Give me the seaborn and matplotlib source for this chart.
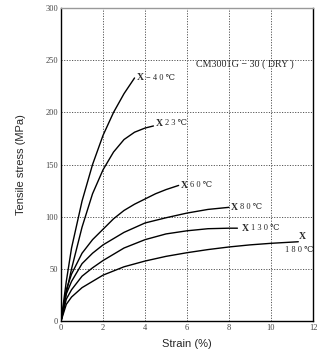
import numpy as np
import pandas as pd
import matplotlib
matplotlib.use("Agg")
import matplotlib.pyplot as plt
import seaborn as sns

# ---- data ----
labels = ["−40℃", "23℃", "60℃", "80℃", "130℃", "180℃"]

x_m40 = [0, 0.25, 0.5, 1.0, 1.5, 2.0, 2.5, 3.0, 3.5]
y_m40 = [0, 38, 70, 115, 150, 178, 200, 218, 233]

x_23 = [0, 0.25, 0.5, 1.0, 1.5, 2.0, 2.5, 3.0, 3.5, 4.0, 4.4]
y_23 = [0, 27, 50, 90, 122, 145, 162, 174, 181, 185, 187]

x_60 = [0, 0.25, 0.5, 1.0, 1.5, 2.0, 2.5, 3.0, 3.5, 4.0, 4.5, 5.0, 5.6]
y_60 = [0, 30, 45, 65, 78, 88, 98, 106, 112, 117, 122, 126, 130]

x_80 = [0, 0.25, 0.5, 1.0, 1.5, 2.0, 3.0, 4.0, 5.0, 6.0, 7.0, 8.0]
y_80 = [0, 26, 38, 55, 65, 73, 85, 94, 99, 103.5, 107, 109]

x_130 = [0, 0.25, 0.5, 1.0, 1.5, 2.0, 3.0, 4.0, 5.0, 6.0, 7.0, 8.0, 8.4]
y_130 = [0, 21, 30, 43, 51, 58, 70, 78, 83.5, 86.5, 88.5, 89, 89]

x_180 = [0, 0.25, 0.5, 1.0, 2.0, 3.0, 4.0, 5.0, 6.0, 7.0, 8.0, 9.0, 10.0, 11.3]
y_180 = [0, 16, 23, 32, 44, 52, 57.5, 62, 65.5, 68.5, 71, 73, 74.5, 76]

title_text = "CM3001G − 30 ( DRY )"
x_ticks = [0, 2, 4, 6, 8, 10, 12]
y_ticks = [0, 50, 100, 150, 200, 250, 300]

series_x = [x_m40, x_23, x_60, x_80, x_130, x_180]
series_y = [y_m40, y_23, y_60, y_80, y_130, y_180]

frames = []
for lab, xs, ys in zip(labels, series_x, series_y):
    frames.append(pd.DataFrame({"strain": xs, "stress": ys, "temp": lab}))
df = pd.concat(frames, ignore_index=True)

sns.set_theme(style="white")
plt.rcParams["font.family"] = ["Liberation Sans", "DejaVu Sans"]

fig = plt.figure(figsize=(3.23, 3.52), dpi=100)
ax = fig.add_axes([0.189, 0.088, 0.78, 0.889])

sns.lineplot(data=df, x="strain", y="stress", hue="temp", sort=False,
             palette=["black"] * len(labels), linewidth=1.0, legend=False,
             estimator=None, ax=ax)

ax.set_xlim(0, 12)
ax.set_ylim(0, 300)
ax.set_xticks(x_ticks)
ax.set_yticks(y_ticks)
serif = ["Liberation Serif", "DejaVu Serif"]
ax.set_xticklabels([str(t) for t in x_ticks], fontsize=6, family=serif, color="#444444")
ax.set_yticklabels([str(t) for t in y_ticks], fontsize=6, family=serif, color="#444444")
ax.tick_params(axis="both", length=0, pad=2)
ax.grid(True, linestyle=(0, (1.2, 1.5)), color="#555555", linewidth=0.7)
for s in ax.spines.values():
    s.set_color("black")
    s.set_linewidth(1.0)
ax.spines["top"].set_color("#999999")

ax.set_xlabel("Strain (%)", fontsize=8, labelpad=5)
ax.set_ylabel("Tensile stress (MPa)", fontsize=8, labelpad=14)

def spaced(s):
    return " ".join(list(s)).replace("℃ ", "℃")

# end markers and labels
offsets = [(4, 0), (4, 2), (4, 0), (4, 0), (6, 0), None]
for lab, xs, ys, off in zip(labels, series_x, series_y, offsets):
    if off is None:
        ax.annotate("X", (xs[-1], ys[-1]), xytext=(3, 4), textcoords="offset points",
                    ha="center", va="center", fontsize=7, family=serif, fontweight="bold")
        ax.annotate(spaced(lab), (xs[-1], ys[-1]), xytext=(11, -6), textcoords="offset points",
                    ha="right", va="center", fontsize=6, family=serif)
    else:
        ax.annotate("X", (xs[-1], ys[-1]), xytext=(off[0], off[1]), textcoords="offset points",
                    ha="center", va="center", fontsize=7, family=serif, fontweight="bold")
        ax.annotate(spaced(lab), (xs[-1], ys[-1]), xytext=(off[0] + 4, off[1]),
                    textcoords="offset points", ha="left", va="center",
                    fontsize=6, family=serif)

ax.text(0.535, 0.82, title_text, transform=ax.transAxes, fontsize=7.2,
        family=serif, ha="left", va="center")

fig.savefig("out.png", dpi=100)
